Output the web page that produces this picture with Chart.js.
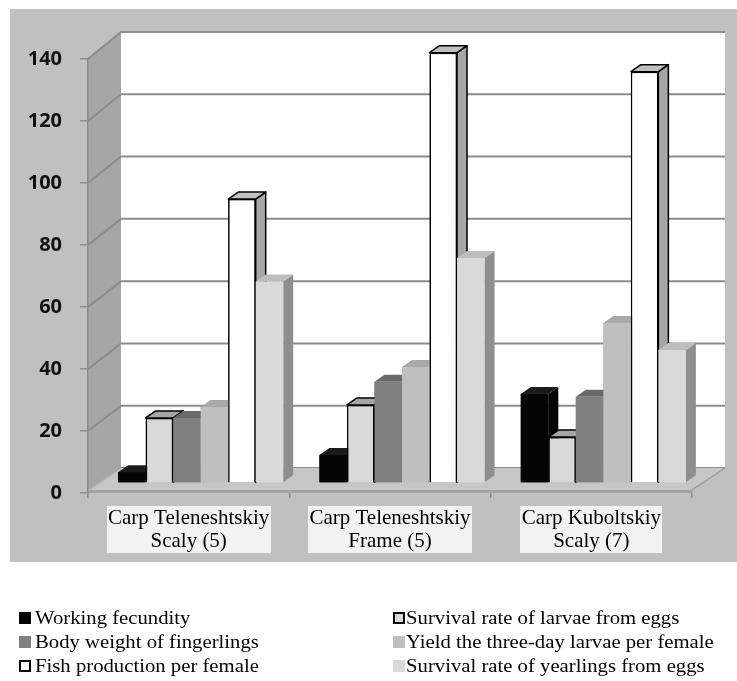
<!DOCTYPE html>
<html><head><meta charset="utf-8">
<script src="https://cdn.jsdelivr.net/npm/chart.js@4/dist/chart.umd.min.js"></script>
<style>
body{margin:0;background:#fff;}
#wrap{position:relative;width:737px;height:681px;overflow:hidden;}
canvas{position:absolute;left:0;top:0;}
.lg{position:absolute;font-family:"Liberation Serif","Times New Roman",serif;font-size:18.5px;color:#000;white-space:nowrap;transform:scaleX(1.12);transform-origin:left center;line-height:20px;height:20px;}
.sw{position:absolute;width:12px;height:12px;box-sizing:border-box;}
</style></head><body>
<div id="wrap"><canvas id="c" width="737" height="681"></canvas><div id="legend"></div></div>
<script>
// ---- data ----
const categories = [["Carp Teleneshtskiy","Scaly (5)"],["Carp Teleneshtskiy","Frame (5)"],["Carp Kuboltskiy","Scaly (7)"]];
const seriesNames = ["Working fecundity","Survival rate of larvae from eggs","Body weight of fingerlings","Yield the three-day larvae per female","Fish production per female","Survival rate of yearlings from eggs"];
const workingFecundity = [3.5, 9.0, 28.7];
const survivalLarvae = [21.0, 25.2, 14.8];
const bodyWeight = [21.0, 32.7, 27.8];
const yieldLarvae = [24.5, 37.4, 51.6];
const fishProduction = [91.6, 138.8, 132.7];
const survivalYearlings = [65.0, 72.6, 42.9];
const yMin = 0, yMax = 140, yStep = 20;

// ---- styles ----
const frontColors = ["#050505","#d9d9d9","#808080","#bfbfbf","#ffffff","#d9d9d9"];
const topColors   = ["#1c1c1c","#a6a6a6","#6a6a6a","#a9a9a9","#c0c0c0","#bdbdbd"];
const sideColors  = ["#050505","#a0a0a0","#666666","#9c9c9c","#a6a6a6","#8e8e8e"];
const bordered    = [false,true,false,false,true,false];

const values = [workingFecundity, survivalLarvae, bodyWeight, yieldLarvae, fishProduction, survivalYearlings];

const DEPTH = {dx:33, dyBottom:-25, dyTop:-27};
const BAR_SHIFT = {dx:12, dy:-10};
const BAR_DEPTH = {dx:10, dy:-7};
const LABEL_FONT = {family:'Liberation Serif', size:21, lineHeight:1.08};

const threeD = {
  id:'threeD',
  beforeDraw(chart){
    const {ctx, chartArea:a, scales:{x, y}} = chart;
    ctx.save();
    ctx.fillStyle = '#c0c0c0';
    ctx.fillRect(10, 9, 727, 553);
    const back = v => {
      const f = y.getPixelForValue(v);
      const t = (a.bottom - f) / (a.bottom - a.top);
      return f + DEPTH.dyBottom + (DEPTH.dyTop - DEPTH.dyBottom) * t;
    };
    const bl = a.left + DEPTH.dx, br = a.right + DEPTH.dx;
    // back wall
    ctx.fillStyle = '#ffffff';
    ctx.fillRect(bl, back(yMax), br - bl, back(yMin) - back(yMax));
    // left wall
    ctx.fillStyle = '#a6a6a6';
    ctx.beginPath();
    ctx.moveTo(a.left, a.top); ctx.lineTo(bl, back(yMax)); ctx.lineTo(bl, back(yMin)); ctx.lineTo(a.left, a.bottom);
    ctx.closePath(); ctx.fill();
    // grid lines
    ctx.strokeStyle = '#8c8c8c'; ctx.lineWidth = 2;
    y.ticks.forEach(t => {
      const fy = y.getPixelForValue(t.value), by = back(t.value);
      ctx.beginPath(); ctx.moveTo(a.left, fy); ctx.lineTo(bl, by); ctx.lineTo(br, by); ctx.stroke();
    });
    // floor
    const fb = back(yMin);
    ctx.fillStyle = '#c6c6c6';
    ctx.beginPath();
    ctx.moveTo(a.left, a.bottom - 3); ctx.lineTo(a.right, a.bottom - 3); ctx.lineTo(br, fb); ctx.lineTo(bl, fb);
    ctx.closePath(); ctx.fill();
    ctx.fillStyle = '#a3a3a3';
    ctx.fillRect(a.left, a.bottom - 3, a.right - a.left, 3);
    ctx.strokeStyle = '#9e9e9e'; ctx.lineWidth = 1.5;
    ctx.beginPath(); ctx.moveTo(a.right, a.bottom); ctx.lineTo(a.right, a.bottom - 3); ctx.lineTo(br, fb); ctx.stroke();
    ctx.strokeStyle = '#b4b4b4';
    ctx.beginPath(); ctx.moveTo(a.left, a.bottom - 2); ctx.lineTo(bl, fb); ctx.stroke();
    // category label boxes
    ctx.font = LABEL_FONT.size + 'px "' + LABEL_FONT.family + '"';
    chart.data.labels.forEach((lab, i) => {
      const lines = Array.isArray(lab) ? lab : [lab];
      const w = Math.max(...lines.map(s => ctx.measureText(s).width)) + 3;
      const cx = x.getPixelForValue(i);
      ctx.fillStyle = '#f2f2f2';
      ctx.fillRect(Math.round(cx - w/2), a.bottom + 13, Math.round(w), 47);
    });
    ctx.restore();
  },
  beforeDatasetsDraw(chart){
    chart.ctx.save();
    chart.ctx.translate(BAR_SHIFT.dx, BAR_SHIFT.dy);
  },
  afterDatasetsDraw(chart){
    const ctx = chart.ctx;
    const dx = BAR_DEPTH.dx, dy = BAR_DEPTH.dy;
    chart.data.datasets.forEach((ds, i) => {
      const meta = chart.getDatasetMeta(i);
      meta.data.forEach(bar => {
        const {x, y, base, width} = bar.getProps(['x','y','base','width'], true);
        const l = x - width/2, r = x + width/2;
        ctx.save();
        ctx.lineJoin = 'round';
        ctx.beginPath();
        ctx.moveTo(r, base); ctx.lineTo(r, y); ctx.lineTo(r + dx, y + dy); ctx.lineTo(r + dx, base + dy);
        ctx.closePath();
        ctx.fillStyle = sideColors[i]; ctx.fill();
        if (bordered[i]) { ctx.strokeStyle = '#000'; ctx.lineWidth = 1.5; ctx.stroke(); }
        ctx.beginPath();
        ctx.moveTo(l, y); ctx.lineTo(r, y); ctx.lineTo(r + dx, y + dy); ctx.lineTo(l + dx, y + dy);
        ctx.closePath();
        ctx.fillStyle = topColors[i]; ctx.fill();
        if (bordered[i]) { ctx.strokeStyle = '#000'; ctx.lineWidth = 1.5; ctx.stroke(); }
        ctx.restore();
        bar.draw(ctx);
      });
    });
    ctx.restore();
  }
};

const datasets = values.map((vals, i) => ({
  label: seriesNames[i],
  data: vals,
  backgroundColor: frontColors[i],
  borderColor: '#000',
  borderWidth: bordered[i] ? 1.5 : 0,
  categoryPercentage: 0.82,
  barPercentage: 1.0,
  clip: false
}));

new Chart(document.getElementById('c'), {
  type: 'bar',
  data: { labels: categories, datasets },
  options: {
    responsive: false,
    devicePixelRatio: 1,
    animation: false,
    layout: { padding: { left: 10, top: 59, right: 45, bottom: 118 } },
    plugins: { legend: { display: false }, tooltip: { enabled: false } },
    scales: {
      x: {
        offset: true,
        grid: { offset: true, drawOnChartArea: false, drawTicks: true, tickLength: 5, color: '#8c8c8c', lineWidth: 1.5 },
        border: { display: false },
        ticks: {
          font: LABEL_FONT,
          color: '#000', padding: 9, maxRotation: 0, autoSkip: false
        },
        afterFit(s) { s.height = 70; }
      },
      y: {
        min: yMin, max: yMax,
        ticks: { stepSize: yStep, padding: 18, font: { family: 'Open Sans', size: 20, weight: 'bold' }, color: '#111' },
        grid: { drawOnChartArea: false, tickLength: 8, color: '#8c8c8c', lineWidth: 1.5 },
        border: { display: true, color: '#8c8c8c', width: 1.5 },
        afterFit(s) { s.width = 78; }
      }
    }
  },
  plugins: [threeD]
});

// ---- legend (HTML) ----
const legend = document.getElementById('legend');
const rowY = [618, 642, 666];
const colSw = [19, 393], colTx = [35, 406];
seriesNames.forEach((name, i) => {
  const col = i % 2, row = Math.floor(i / 2);
  const sw = document.createElement('div');
  sw.className = 'sw';
  sw.style.left = colSw[col] + 'px';
  sw.style.top = (rowY[row] - 6) + 'px';
  sw.style.background = frontColors[i];
  if (bordered[i]) sw.style.border = '2px solid #000';
  legend.appendChild(sw);
  const tx = document.createElement('div');
  tx.className = 'lg';
  tx.style.left = colTx[col] + 'px';
  tx.style.top = (rowY[row] - 10) + 'px';
  tx.textContent = name;
  legend.appendChild(tx);
});
</script>
</body></html>
